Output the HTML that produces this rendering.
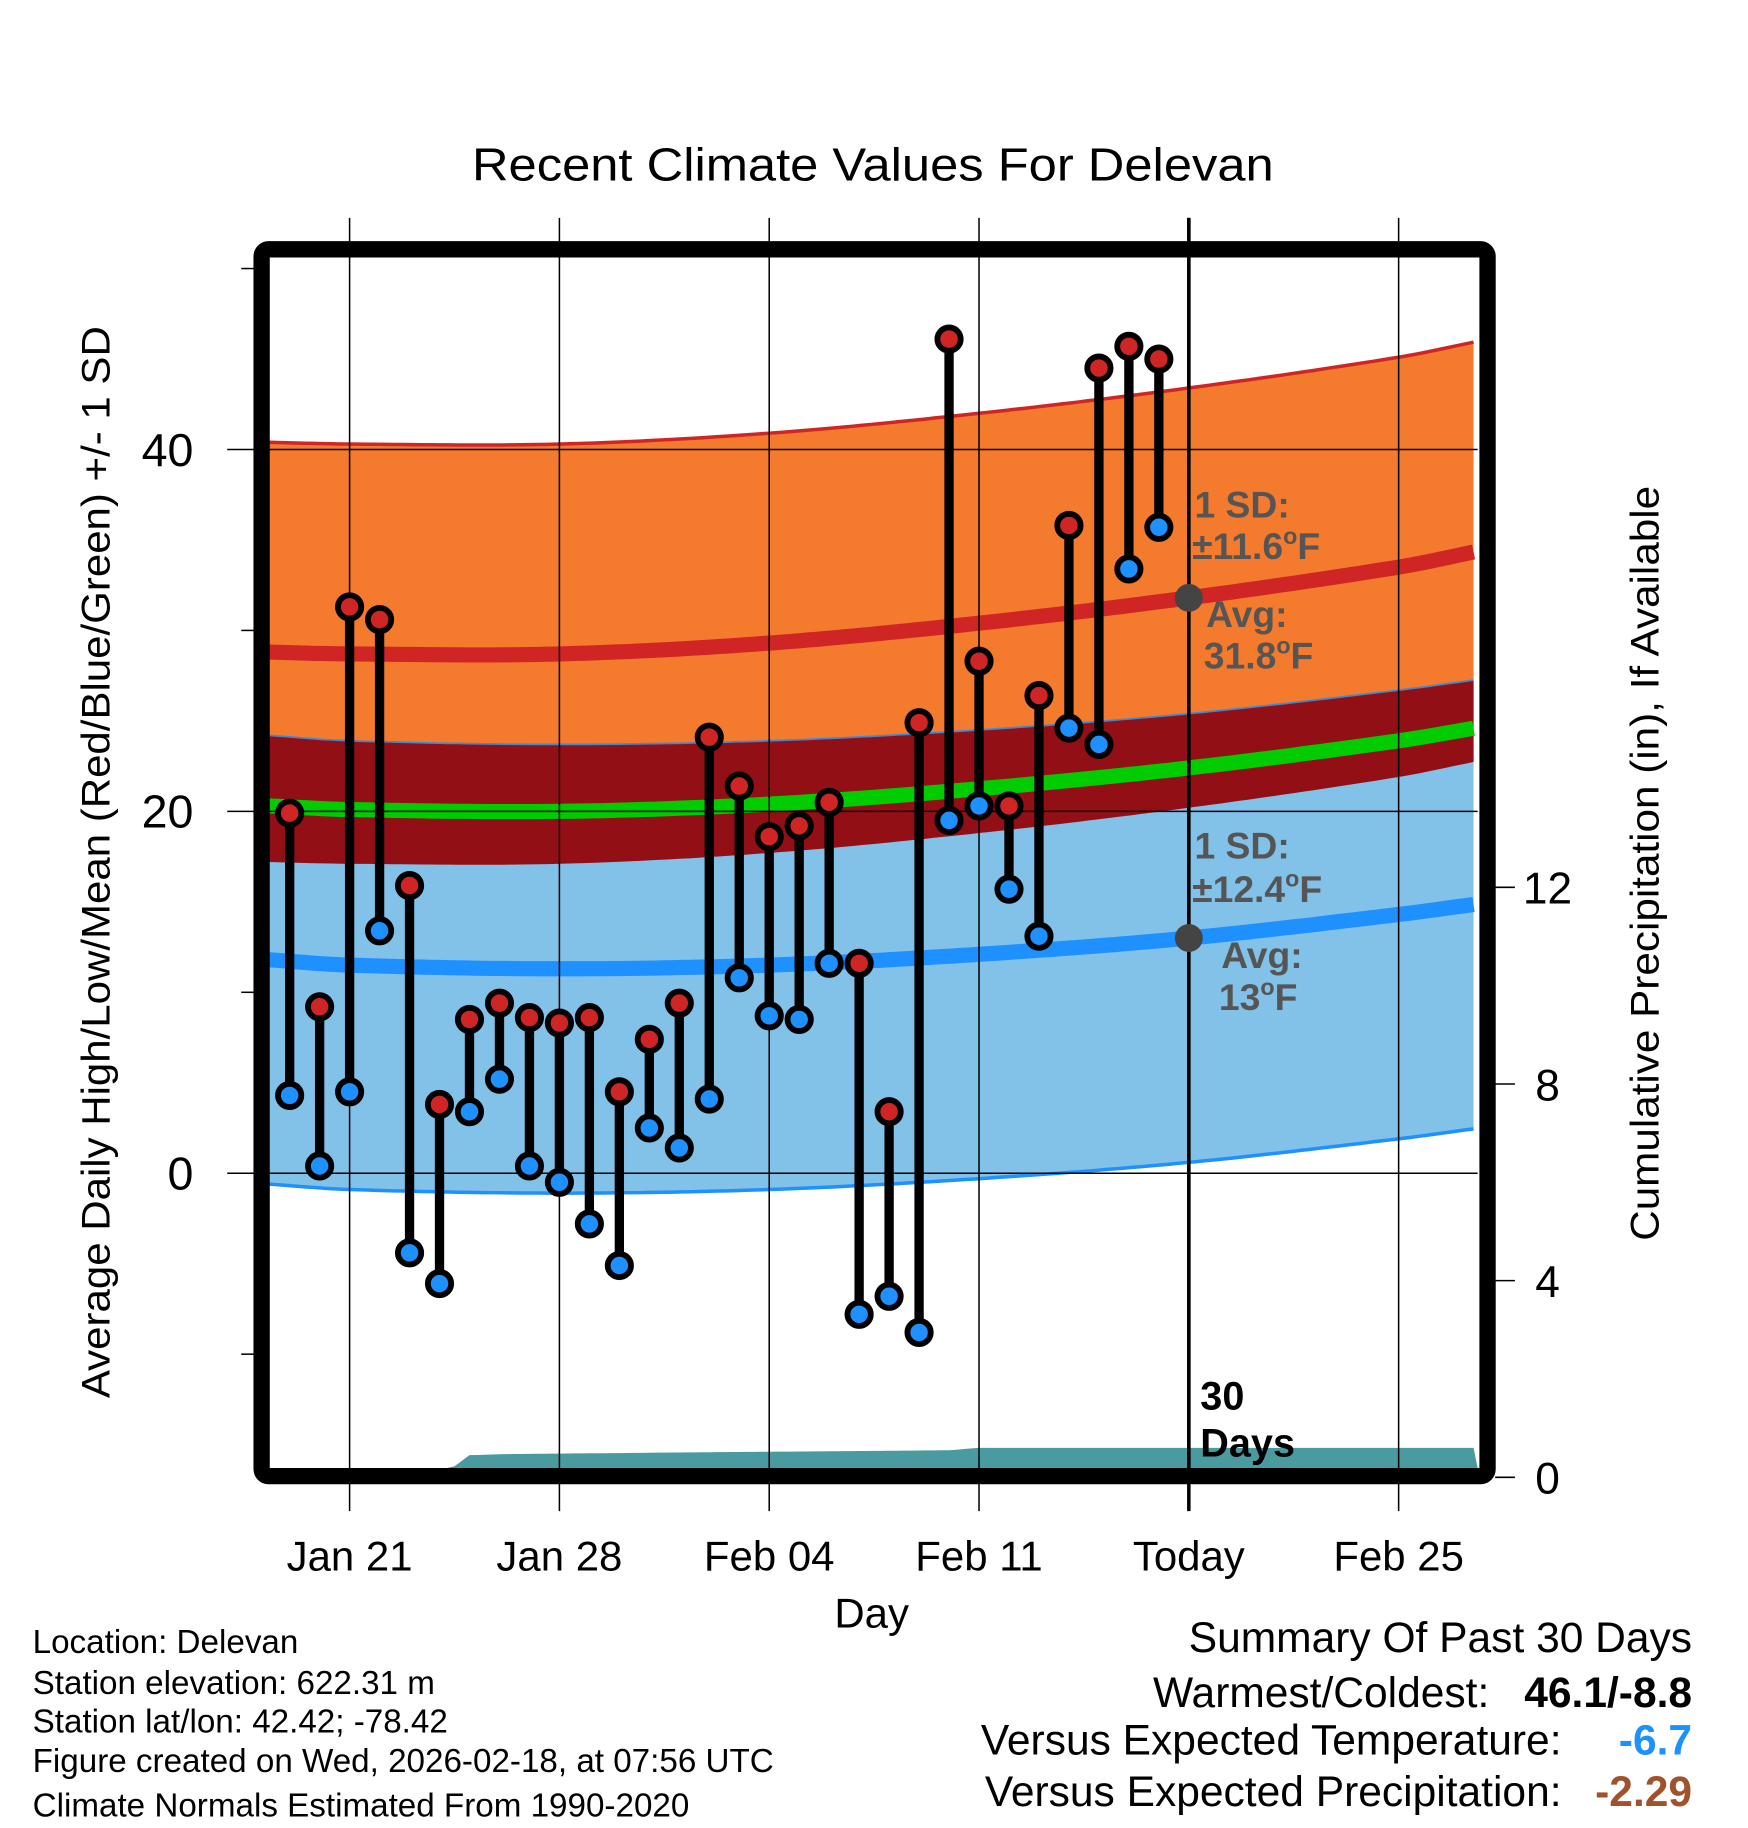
<!DOCTYPE html>
<html><head><meta charset="utf-8"><style>
html,body{margin:0;padding:0;background:#fff}
svg{display:block;font-family:"Liberation Sans",Arial,sans-serif}
</style></head><body>
<svg id="chart" width="1748" height="1828" viewBox="0 0 1500 1569" preserveAspectRatio="none" xmlns="http://www.w3.org/2000/svg">
<g id="bands"></g>
<g id="grid"></g>
<g id="marks"></g>
<g id="labels"></g>
</svg>
<script>
// ---- data ----
const dayLabels = ["Jan 21","Jan 28","Feb 04","Feb 11","Today","Feb 25"];
const dayLabelPos = [0,7,14,21,28,35]; // days since Jan 21
const obsDays = [-2,-1,0,1,2,3,4,5,6,7,8,9,10,11,12,13,14,15,16,17,18,19,20,21,22,23,24,25,26,27];
const highs = [19.9,9.2,31.3,30.6,15.9,3.8,8.5,9.4,8.6,8.3,8.6,4.5,7.4,9.4,24.1,21.4,18.6,19.2,20.5,11.6,3.4,24.9,46.1,28.3,20.3,26.4,35.8,44.5,45.7,45.0];
const lows = [4.3,0.4,4.5,13.4,-4.4,-6.1,3.4,5.2,0.4,-0.5,-2.8,-5.1,2.5,1.4,4.1,10.8,8.7,8.5,11.6,-7.8,-6.8,-8.8,19.5,20.3,15.7,13.1,24.6,23.7,33.4,35.7];
const normDays = [-2.7,0,7,14,21,28,35,37.7];
const normHigh = [28.8,28.7,28.7,29.3,30.4,31.8,33.5,34.4];
const normLow = [11.8,11.5,11.3,11.5,12.1,13.0,14.3,14.9];
const sdHigh = 11.6, sdLow = 12.4;
const precipDays = [3,4,5,10,20,21,37.7];
const precipVals = [0,0.45,0.47,0.5,0.55,0.6,0.6];
const leftTicks = [40,20,0];
const rightTicks = [0,4,8,12];

// ---- axes ----
const X0=231,X1=1268,Y0=221,Y1=1260;
const xs = d => 300 + d*25.72;
const ys = v => 1007 - v*15.53;
const yp = v => 1268 - v*42.2;
const NS="http://www.w3.org/2000/svg";
function mk(tag, attrs, parent, text){const e=document.createElementNS(NS,tag);for(const k in attrs)e.setAttribute(k,attrs[k]);if(text!==undefined)e.textContent=text;parent.appendChild(e);return e;}
function interp(arrX, arrY, d){for(let i=0;i<arrX.length-1;i++){if(d<=arrX[i+1]){const t=(d-arrX[i])/(arrX[i+1]-arrX[i]);return arrY[i]+t*(arrY[i+1]-arrY[i]);}}return arrY[arrY.length-1];}
function smooth(arrX, arrY, d){
  const n=arrX.length;let i=0;while(i<n-2&&d>arrX[i+1])i++;
  const x0=arrX[i],x1=arrX[i+1],t=Math.max(0,Math.min(1,(d-x0)/(x1-x0)));
  const m=k=>{const a=Math.max(0,k-1),b=Math.min(n-1,k+1);return (arrY[b]-arrY[a])/(arrX[b]-arrX[a]);};
  const h=x1-x0,t2=t*t,t3=t2*t;
  return (2*t3-3*t2+1)*arrY[i]+(t3-2*t2+t)*h*m(i)+(-2*t3+3*t2)*arrY[i+1]+(t3-t2)*h*m(i+1);
}
const bands=document.getElementById('bands'),grid=document.getElementById('grid'),marks=document.getElementById('marks'),labels=document.getElementById('labels');
const steps=[];for(let d=-2.7;d<=37.71;d+=0.3)steps.push(d);
function area(fnTop, fnBot, color, name){
  let p=steps.map((d,i)=>(i?'L':'M')+xs(d).toFixed(1)+','+fnTop(d).toFixed(1)).join(' ');
  p+=' '+steps.slice().reverse().map(d=>'L'+xs(d).toFixed(1)+','+fnBot(d).toFixed(1)).join(' ')+'Z';
  const e=mk('path',{d:p,fill:color},bands);
  
  
}
function line(fn,color,w,name){
  const p=steps.map((d,i)=>(i?'L':'M')+xs(d).toFixed(1)+','+fn(d).toFixed(1)).join(' ');
  const e=mk('path',{d:p,fill:'none',stroke:color,'stroke-width':w},bands);
  
  
}
const H=d=>smooth(normDays,normHigh,d), L=d=>smooth(normDays,normLow,d);
area(d=>ys(H(d)+sdHigh),d=>ys(H(d)-sdHigh),'#f47a2e','high-sd-band');
area(d=>ys(L(d)+sdLow),d=>ys(L(d)-sdLow),'#82c1e8','low-sd-band');
area(d=>ys(L(d)+sdLow),d=>ys(H(d)-sdHigh),'#930f16','overlap-band');
line(d=>ys(H(d)+sdHigh),'#d02525',3,'high-sd-upper-line');
line(d=>ys(L(d)-sdLow),'#1e90ff',3,'low-sd-lower-line');
line(d=>ys(L(d)+sdLow),'#3a8ad8',1.5,'low-sd-upper-line');
line(d=>ys(H(d)),'#d02525',13,'normal-high-line');
line(d=>ys(L(d)),'#1e90ff',13,'normal-low-line');
line(d=>ys((H(d)+L(d))/2),'#00cc00',13,'normal-mean-line');
// precip
{
  let p='M'+xs(precipDays[0])+','+yp(0)+' ';
  const pd=[];for(let d=precipDays[0];d<=37.71;d+=0.25)pd.push(d);
  p+=pd.map(d=>'L'+xs(d).toFixed(1)+','+Math.min(Y1,yp(interp(precipDays,precipVals,d))).toFixed(1)).join(' ');
  p+=' L'+X1+','+Y1+' L'+xs(precipDays[0])+','+Y1+'Z';
  const e=mk('path',{d:p,fill:'#4a9ba0'},bands);
  
  
}
// grid
dayLabelPos.forEach((d,i)=>{
  const e=mk('line',{x1:xs(d),x2:xs(d),y1:187,y2:1297,stroke:'#000','stroke-width':i==4?3:1.3},grid);
  
  
  const t=mk('text',{x:xs(d),y:1348,'font-size':36,'text-anchor':'middle'},labels,dayLabels[i]);
  
  
});
leftTicks.forEach(v=>{
  const e=mk('line',{x1:195,x2:X1,y1:ys(v),y2:ys(v),stroke:'#000','stroke-width':1.3},grid);
  
  
  const t=mk('text',{x:166,y:ys(v)+14,'font-size':40,'text-anchor':'end'},labels,String(v));
  
  
});
[50,30,10,-10].forEach(v=>{mk('line',{x1:207,x2:218,y1:ys(v),y2:ys(v),stroke:'#000','stroke-width':1.3},grid);});
rightTicks.forEach(v=>{
  const e=mk('line',{x1:1283,x2:1300,y1:yp(v),y2:yp(v),stroke:'#000','stroke-width':1.3},grid);
  
  
  const t=mk('text',{x:1328,y:yp(v)+14,'font-size':38,'text-anchor':'middle'},labels,String(v));
  
  
});
// markers
obsDays.forEach((d,i)=>{
  const x=xs(d);
  const s=mk('line',{x1:x,x2:x,y1:ys(highs[i]),y2:ys(lows[i]),stroke:'#000','stroke-width':8},marks);
  
  
  const c1=mk('circle',{cx:x,cy:ys(highs[i]),r:10,fill:'#d02525',stroke:'#000','stroke-width':5},marks);
  
  
  const c2=mk('circle',{cx:x,cy:ys(lows[i]),r:10,fill:'#1e90ff',stroke:'#000','stroke-width':5},marks);
  
  
});
mk('line',{x1:xs(28),x2:xs(28),y1:187,y2:1262,stroke:'#000','stroke-width':3},marks);
[[H(28),'high'],[L(28),'low']].forEach(([v,n])=>{
  const c=mk('circle',{cx:xs(28),cy:ys(v),r:12,fill:'#444'},marks);
  
  
});
</script>
<svg style="position:absolute;left:0;top:0" width="1748" height="1828" viewBox="0 0 1500 1569" preserveAspectRatio="none" xmlns="http://www.w3.org/2000/svg" font-family="Liberation Sans, Arial, sans-serif">
<rect x="224.5" y="214" width="1052" height="1053" rx="6" fill="none" stroke="#000" stroke-width="14"/>
<text x="405" y="155" font-size="40" textLength="688" lengthAdjust="spacingAndGlyphs">Recent Climate Values For Delevan</text>
<text x="748" y="1397" font-size="36" text-anchor="middle">Day</text>
<text transform="translate(94,1200) rotate(-90)" font-size="34" textLength="920" lengthAdjust="spacingAndGlyphs">Average Daily High/Low/Mean (Red/Blue/Green) +/- 1 SD</text>
<text transform="translate(1423,1065) rotate(-90)" font-size="34" textLength="648" lengthAdjust="spacingAndGlyphs">Cumulative Precipitation (in), If Available</text>
<g font-weight="bold" fill="#555" font-size="32">
<text x="1025" y="444">1 SD:</text>
<text x="1023" y="480">±11.6<tspan font-size="20" dy="-13">o</tspan><tspan dy="13">F</tspan></text>
<text x="1035" y="538">Avg:</text>
<text x="1033" y="574">31.8<tspan font-size="20" dy="-13">o</tspan><tspan dy="13">F</tspan></text>
<text x="1025" y="737">1 SD:</text>
<text x="1023" y="774">±12.4<tspan font-size="20" dy="-13">o</tspan><tspan dy="13">F</tspan></text>
<text x="1048" y="831">Avg:</text>
<text x="1046" y="867">13<tspan font-size="20" dy="-13">o</tspan><tspan dy="13">F</tspan></text>
</g>
<text x="1030" y="1210" font-size="34" font-weight="bold">30</text>
<text x="1030" y="1250" font-size="34" font-weight="bold">Days</text>
<g font-size="28.5">
<text x="28" y="1419">Location: Delevan</text>
<text x="28" y="1454">Station elevation: 622.31 m</text>
<text x="28" y="1487">Station lat/lon: 42.42; -78.42</text>
<text x="28" y="1521">Figure created on Wed, 2026-02-18, at 07:56 UTC</text>
<text x="28" y="1559">Climate Normals Estimated From 1990-2020</text>
</g>
<g font-size="36.5" text-anchor="end">
<text x="1452" y="1418">Summary Of Past 30 Days</text>
<text x="1278" y="1465">Warmest/Coldest:</text>
<text x="1452" y="1465" font-weight="bold">46.1/-8.8</text>
<text x="1340" y="1506">Versus Expected Temperature:</text>
<text x="1452" y="1506" font-weight="bold" fill="#1e90ff">-6.7</text>
<text x="1340" y="1550">Versus Expected Precipitation:</text>
<text x="1452" y="1550" font-weight="bold" fill="#a0522d">-2.29</text>
</g>
</svg>
</body></html>
